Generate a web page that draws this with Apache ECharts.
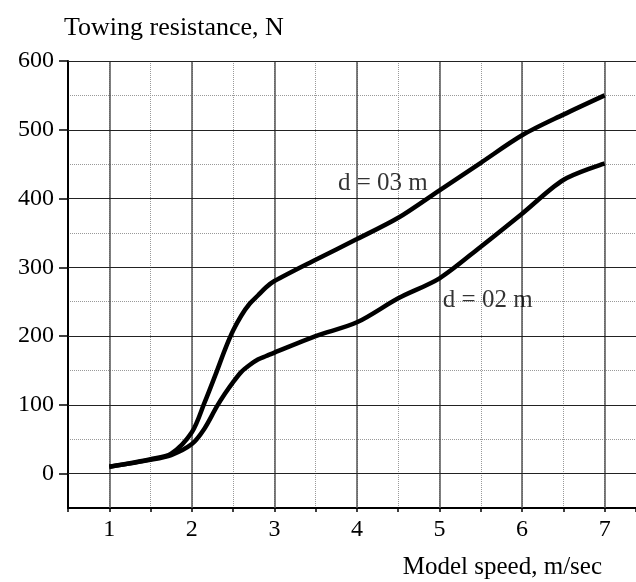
<!DOCTYPE html>
<html>
<head>
<meta charset="utf-8">
<title>Towing resistance</title>
<script src="https://cdn.jsdelivr.net/npm/echarts@6/dist/echarts.min.js"></script>
<style>
    html, body { margin: 0; padding: 0; background: #fff; }
    #main { width: 636px; height: 582px; }
</style>
</head>
<body>
<div id="main"></div>
<script>
    // data
    var speed = [1, 1.5, 1.75, 2, 2.15, 2.3, 2.4, 2.5, 2.6, 2.7, 2.8, 2.9, 3, 3.5, 4, 4.5, 5, 5.5, 6, 6.5, 7];
    var d03 = [10, 21, 29, 60, 102, 148, 180, 208, 230, 247, 259, 271, 280, 311, 341, 372, 412, 452, 492, 522, 550];
    var d02 = [10, 20, 27, 43, 65, 97, 116, 133, 148, 158, 166, 171, 176, 200, 220, 255, 284, 330, 378, 427, 451];
    var xMajor = [1, 2, 3, 4, 5, 6, 7];
    var yMajor = [0, 100, 200, 300, 400, 500, 600];
    var notes = [
        { text: 'd = 03 m', at: [3.77, 422] },
        { text: 'd = 02 m', at: [5.04, 252] }
    ];

    var font = 'Liberation Serif';

    function pairs(xs, ys) {
        return xs.map(function (x, i) { return [x, ys[i]]; });
    }

    var myChart = echarts.init(document.getElementById('main'));

    var axisLine = { show: true, onZero: false, lineStyle: { color: '#000', width: 2 } };
    var dotted = { show: true, lineStyle: { color: '#999', type: 'dotted', width: 1 } };

    var option = {
        animation: false,
        backgroundColor: '#fff',
        grid: { left: 68, right: 0, top: 61, bottom: 74 },
        xAxis: {
            type: 'value',
            min: 0.5,
            max: 7.38,
            interval: 0.5,
            axisLine: axisLine,
            axisTick: { show: true, length: 4, lineStyle: { color: '#000', width: 1.5 } },
            axisLabel: {
                customValues: xMajor,
                margin: 10,
                color: '#000',
                fontFamily: font,
                fontSize: 24
            },
            splitLine: dotted
        },
        yAxis: [
            {
                // minor dotted grid every 50
                type: 'value',
                position: 'left',
                min: -50,
                max: 600,
                interval: 50,
                axisLine: { show: false },
                axisTick: { show: false },
                axisLabel: { show: false },
                splitLine: dotted
            },
            {
                type: 'value',
                position: 'left',
                offset: 0,
                min: -50,
                max: 600,
                interval: 50,
                axisLine: axisLine,
                axisTick: { show: true, customValues: yMajor, length: 9, lineStyle: { color: '#000', width: 1.5 } },
                axisLabel: {
                    customValues: yMajor,
                    margin: 14,
                    color: '#000',
                    fontFamily: font,
                    fontSize: 24
                },
                splitLine: { show: false }
            }
        ],
        graphic: [
            {
                type: 'text', left: 64, top: 15,
                style: { text: 'Towing resistance, N', fill: '#000', font: '26px "Liberation Serif"' }
            },
            {
                type: 'text', right: 34, bottom: 2,
                style: { text: 'Model speed, m/sec', fill: '#000', font: '25px "Liberation Serif"' }
            }
        ],
        series: [
            {
                name: 'grid',
                type: 'line',
                data: [],
                markLine: {
                    silent: true,
                    symbol: ['none', 'none'],
                    label: { show: false },
                    data: xMajor.map(function (v) {
                        return { xAxis: v, lineStyle: { color: '#555', type: 'solid', width: 1.5 } };
                    }).concat(yMajor.map(function (v) {
                        return { yAxis: v, lineStyle: { color: '#222', type: 'solid', width: 1.2 } };
                    }))
                }
            },
            {
                name: 'd = 03 m',
                type: 'line',
                smooth: 0.3,
                showSymbol: false,
                lineStyle: { color: '#000', width: 4.5 },
                data: pairs(speed, d03),
                z: 5
            },
            {
                name: 'd = 02 m',
                type: 'line',
                smooth: 0.3,
                showSymbol: false,
                lineStyle: { color: '#000', width: 4.5 },
                data: pairs(speed, d02),
                z: 5
            },
            {
                name: 'notes',
                type: 'scatter',
                symbolSize: 0,
                silent: true,
                data: notes.map(function (n) { return { value: n.at, name: n.text }; }),
                label: {
                    show: true,
                    position: 'right',
                    distance: 0,
                    formatter: '{b}',
                    color: '#000',
                    textBorderWidth: 0,
                    fontFamily: font,
                    fontSize: 25
                },
                z: 6
            }
        ]
    };

    myChart.setOption(option);
</script>
</body>
</html>
